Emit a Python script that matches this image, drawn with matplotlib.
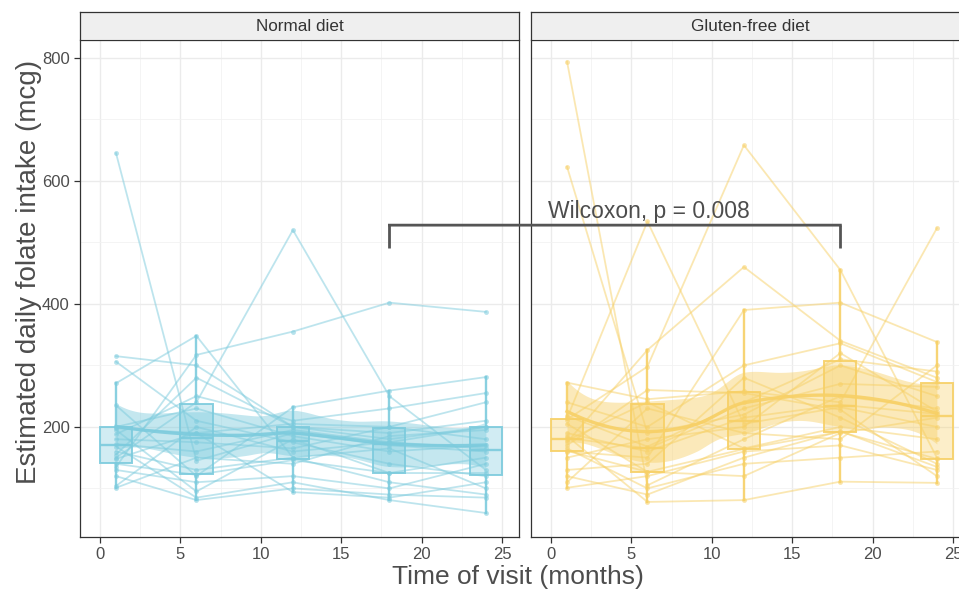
import numpy as np
import matplotlib
matplotlib.use("Agg")
import matplotlib.pyplot as plt
from matplotlib.patches import ConnectionPatch
from matplotlib.ticker import MultipleLocator

plt.rcParams['font.family'] = ['Liberation Sans', 'DejaVu Sans']

# visit times (months) and folate intake per subject (one row per subject)
visit_months = [1, 6, 12, 18, 24]
panel_names = ["Normal diet", "Gluten-free diet"]

normal_diet = [
    [645, 145, 190, 170, 160],
    [150, 240, 520, 250, 130],
    [135, 317, 355, 402, 387],
    [315, 300, 200, 180, 200],
    [306, 210, 175, 140, 120],
    [271, 348, 150, 110, 90],
    [235, 120, 232, 259, 281],
    [198, 190, 205, 200, 240],
    [200, 230, 185, 160, 170],
    [195, 95, 180, 125, 150],
    [188, 250, 210, 230, 255],
    [180, 175, 165, 200, 180],
    [172, 160, 195, 175, 165],
    [168, 85, 110, 81, 60],
    [160, 130, 150, 165, 100],
    [155, 280, 200, 190, 210],
    [148, 190, 94, 85, 110],
    [140, 122, 146, 125, 125],
    [130, 110, 120, 100, 140],
    [120, 81, 100, 90, 85],
    [104, 200, 160, 175, 200],
    [101, 150, 140, 185, 195],
]

gluten_free = [
    [794, 105, 180, 250, 230],
    [623, 190, 220, 300, 250],
    [214, 534, 205, 232, 200],
    [212, 298, 658, 455, 150],
    [175, 325, 460, 340, 280],
    [160, 150, 390, 402, 338],
    [272, 245, 258, 240, 523],
    [240, 200, 300, 336, 273],
    [218, 168, 240, 310, 290],
    [205, 127, 164, 192, 148],
    [190, 160, 215, 236, 221],
    [185, 78, 81, 111, 109],
    [182, 165, 230, 270, 265],
    [178, 240, 165, 200, 180],
    [170, 260, 255, 228, 120],
    [165, 100, 140, 150, 160],
    [161, 127, 120, 190, 215],
    [150, 180, 200, 320, 225],
    [130, 140, 280, 215, 140],
    [120, 90, 150, 193, 135],
    [110, 230, 190, 180, 300],
    [101, 120, 160, 170, 130],
]

colors = ["#7CCBDD", "#F7D066"]
wilcox_label = "Wilcoxon, p = 0.008"


def loess(x, y, grid, span=0.75):
    # local quadratic fits at kd vertices, cubic hermite in between (like R's loess)
    x = np.asarray(x, float)
    y = np.asarray(y, float)
    n = len(x)
    q = int(np.floor(n * span))

    def local_rows(x0):
        d = np.abs(x - x0)
        h = np.sort(d)[q - 1] * 1.0001 + 1e-9
        w = np.clip(1 - (d / h) ** 3, 0, None) ** 3
        X = np.column_stack([np.ones(n), x - x0, (x - x0) ** 2])
        XtW = X.T * w
        B = np.linalg.solve(XtW @ X, XtW)
        return B[0], B[1]

    ux = np.unique(x)
    pad = 0.005 * (ux[-1] - ux[0])
    verts = np.concatenate([[ux[0] - pad], (ux[:-1] + ux[1:]) / 2, ux[1:-1], [ux[-1] + pad]])
    verts = np.sort(verts)
    vrows = [local_rows(v) for v in verts]

    def interp_rows(pts):
        out = []
        for p in pts:
            k = np.clip(np.searchsorted(verts, p) - 1, 0, len(verts) - 2)
            a, b = verts[k], verts[k + 1]
            t = (p - a) / (b - a)
            h00 = 2 * t**3 - 3 * t**2 + 1
            h10 = t**3 - 2 * t**2 + t
            h01 = -2 * t**3 + 3 * t**2
            h11 = t**3 - t**2
            out.append(h00 * vrows[k][0] + h10 * (b - a) * vrows[k][1]
                       + h01 * vrows[k + 1][0] + h11 * (b - a) * vrows[k + 1][1])
        return np.array(out)

    L = interp_rows(x)
    res = y - L @ y
    s = np.sqrt(np.sum(res ** 2) / (n - np.trace(L)))
    G = interp_rows(grid)
    return G @ y, s * np.sqrt(np.sum(G ** 2, axis=1))


W, H = 959, 590
fig = plt.figure(figsize=(W / 100, H / 100), dpi=100)

lefts = [80, 531]
pw = 439
top, bottom = 40, 537
axes = []
for i, (name, data, col) in enumerate(zip(panel_names, [normal_diet, gluten_free], colors)):
    ax = fig.add_axes([lefts[i] / W, (H - bottom) / H, pw / W, (bottom - top) / H])
    axes.append(ax)
    vals = np.array(data, float)

    # subject trajectories
    for row in vals:
        ax.plot(visit_months, row, color=col, lw=1.3, alpha=0.5, zorder=2)
        ax.plot(visit_months, row, 'o', color=col, ms=3.5, alpha=0.55, mec='none', zorder=2)

    # boxplots per visit
    bp = ax.boxplot([vals[:, j] for j in range(len(visit_months))], positions=visit_months,
                    widths=2.0, whis=1.5, showfliers=False, patch_artist=True,
                    manage_ticks=False, zorder=3)
    for b in bp['boxes']:
        b.set_facecolor(matplotlib.colors.to_rgba(col, 0.35))
        b.set_edgecolor(matplotlib.colors.to_rgba(col, 0.9))
        b.set_linewidth(1.4)
    for k in ['whiskers', 'medians']:
        for l in bp[k]:
            l.set_color(col)
            l.set_alpha(0.9)
            l.set_linewidth(1.7)
    for l in bp['caps']:
        l.set_visible(False)

    # loess smooth with 95% band
    xs = np.repeat([visit_months], len(vals), axis=0).ravel()
    grid = np.linspace(min(visit_months), max(visit_months), 160)
    fit, se = loess(xs, vals.ravel(), grid)
    ax.fill_between(grid, fit - 1.98 * se, fit + 1.98 * se, color=col, alpha=0.45, lw=0, zorder=4)
    ax.plot(grid, fit, color=col, lw=2.4, alpha=0.9, zorder=5)

    ax.set_xlim(-1.24, 26.06)
    ax.set_ylim(21, 829)
    ax.xaxis.set_major_locator(MultipleLocator(5))
    ax.xaxis.set_minor_locator(MultipleLocator(2.5))
    ax.yaxis.set_major_locator(MultipleLocator(200))
    ax.yaxis.set_minor_locator(MultipleLocator(100))
    ax.set_axisbelow(True)
    ax.grid(which='major', color='#EBEBEB', lw=1.0)
    ax.grid(which='minor', color='#F2F2F2', lw=0.6)
    ax.tick_params(which='minor', length=0)
    ax.tick_params(which='major', length=4, color='#333333', width=0.9,
                   labelsize=12, labelcolor='#4D4D4D')
    for sp in ax.spines.values():
        sp.set_color('#333333')
        sp.set_linewidth(0.9)
    if i == 1:
        ax.tick_params(axis='y', left=False, labelleft=False)

    # facet strip
    sax = fig.add_axes([lefts[i] / W, (H - 39) / H, pw / W, 27 / H])
    sax.set_facecolor('#EFEFEF')
    sax.set_xticks([])
    sax.set_yticks([])
    for sp in sax.spines.values():
        sp.set_color('#333333')
        sp.set_linewidth(0.9)
    sax.spines['bottom'].set_visible(False)
    sax.text(0.5, 0.48, name, transform=sax.transAxes, ha='center', va='center',
             fontsize=12.3, color='#333333')

# comparison bracket between the two panels at month 18
ax1, ax2 = axes
y_top, y_tip = 528, 491
bracket_kw = dict(color='#555555', lw=2.0, solid_capstyle='butt', zorder=6)
ax1.plot([18, 18], [y_tip, y_top], **bracket_kw)
ax2.plot([18, 18], [y_tip, y_top], **bracket_kw)
con = ConnectionPatch(xyA=(18, y_top), coordsA=ax1.transData, xyB=(18, y_top), coordsB=ax2.transData,
                      color='#555555', lw=2.0, capstyle='projecting', zorder=6)
fig.add_artist(con)
ax2.text(6.1, 550, wilcox_label, ha='center', va='center', fontsize=16.5, color='#4D4D4D', zorder=7)

fig.text(518 / W, (H - 577) / H, "Time of visit (months)", ha='center', va='center',
         fontsize=19, color='#4D4D4D')
fig.text(29 / W, (H - 272) / H, "Estimated daily folate intake (mcg)", ha='center', va='center',
         rotation=90, fontsize=20, color='#4D4D4D')

fig.savefig("out.png", dpi=100)
